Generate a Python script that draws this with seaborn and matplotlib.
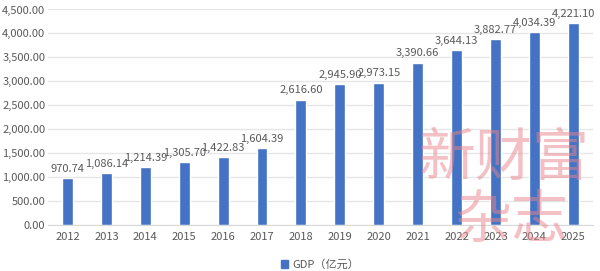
import numpy as np
import pandas as pd
import seaborn as sns
import matplotlib.pyplot as plt
from matplotlib.patches import Patch

years = ['2012', '2013', '2014', '2015', '2016', '2017', '2018',
         '2019', '2020', '2021', '2022', '2023', '2024', '2025']
gdp = [970.74, 1086.14, 1214.39, 1305.70, 1422.83, 1604.39, 2616.60,
       2945.90, 2973.15, 3390.66, 3644.13, 3882.77, 4034.39, 4221.10]
y_ticks = [0, 500, 1000, 1500, 2000, 2500, 3000, 3500, 4000, 4500]
series_name = 'GDP（亿元）'

sns.set_style('white')
plt.rcParams['font.family'] = ['Noto Sans CJK SC', 'DejaVu Sans']

df = pd.DataFrame({'year': years, 'gdp': gdp})

fig = plt.figure(figsize=(6, 2.71), dpi=100)
ax = fig.add_axes([0.08, 0.170, 0.908, 0.795])

sns.barplot(data=df, x='year', y='gdp', color='#4472C4', saturation=1,
            width=0.28, ax=ax)

# value labels
labels = [f'{v:,.2f}' for v in gdp]
ax.bar_label(ax.containers[0], labels=labels, padding=3, fontsize=8,
             color='#595959')

ax.set_ylim(0, 4500)
ax.set_xlim(-0.5, len(years) - 0.5)
ax.set_yticks(y_ticks)
ax.set_yticklabels([f'{t:,.2f}' for t in y_ticks])
ax.yaxis.grid(True, color='#e6e6e6', linewidth=1)
ax.set_axisbelow(True)
ax.set_xlabel('')
ax.set_ylabel('')

for s in ['top', 'right', 'left']:
    ax.spines[s].set_visible(False)
ax.spines['bottom'].set_color('#d9d9d9')

# ticks sit between categories
ax.set_xticks(np.arange(len(years) + 1) - 0.5, minor=True)
ax.tick_params(axis='x', which='minor', length=4, color='#d9d9d9')
ax.tick_params(axis='x', which='major', length=0, pad=5, labelsize=8,
               labelcolor='#595959')
ax.tick_params(axis='y', length=0, pad=2, labelsize=8, labelcolor='#595959')

ax.legend(handles=[Patch(color='#4472C4', label=series_name)],
          loc='lower center', bbox_to_anchor=(0.5, -0.245), frameon=False,
          fontsize=8, handlelength=0.6, handleheight=0.6, handletextpad=0.4,
          labelcolor='#595959', borderpad=0.2)

# watermark
wm = dict(fontsize=41, color='#e8848c', alpha=0.5, ha='center',
          va='center', zorder=10, fontweight='medium')
fig.text(0.84, 0.415, '新财富', **wm)
fig.text(0.853, 0.185, '杂志', **wm)

fig.savefig('out.png', dpi=100)
